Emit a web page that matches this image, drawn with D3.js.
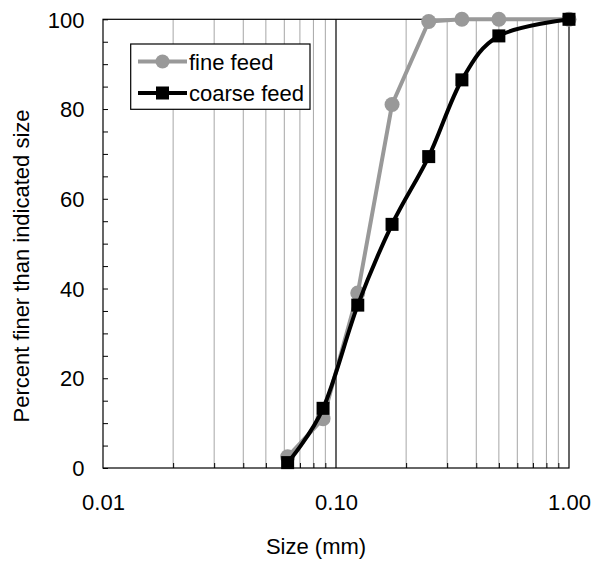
<!DOCTYPE html>
<html>
<head>
<meta charset="utf-8">
<script src="https://cdn.jsdelivr.net/npm/d3@7"></script>
<style>
  body { margin: 0; background: #fff; }
  svg { display: block; font-family: "Liberation Sans", Arial, sans-serif; }
</style>
</head>
<body>
<div id="chart"></div>
<script>
// sieve sizes (mm) and cumulative percent passing
var sizes = [0.062, 0.088, 0.124, 0.174, 0.25, 0.347, 0.5, 1.0];
var fineFeed = [2.5, 11, 39, 81, 99.5, 100, 100, 100];
var coarseFeed = [1.2, 13.3, 36.3, 54.3, 69.4, 86.5, 96.3, 100];
var seriesNames = ["fine feed", "coarse feed"];
var xTickLabels = [0.01, 0.1, 1];
var yTickLabels = [0, 20, 40, 60, 80, 100];

var W = 592, H = 563;
var pLeft = 103, pRight = 569, pTop = 19.3, pBottom = 468;
var fs = 22;

var svg = d3.select("#chart").append("svg")
  .attr("width", W).attr("height", H);

var x = d3.scaleLog().domain([0.01, 1]).range([pLeft, pRight]);
var y = d3.scaleLinear().domain([0, 100]).range([pBottom, pTop]);

// vertical grid lines on the log axis
var minor = [];
[0.01, 0.1].forEach(function(dec){
  for (var k = 2; k <= 9; k++) minor.push(+(dec * k).toFixed(3));
});

svg.selectAll(".grid")
  .data(minor)
  .enter().append("line")
  .attr("class", "grid")
  .attr("x1", d => x(d)).attr("x2", d => x(d))
  .attr("y1", pTop).attr("y2", pBottom)
  .attr("stroke", "#a6a6a6")
  .attr("stroke-width", 1);

svg.append("line")
  .attr("x1", x(0.1)).attr("x2", x(0.1))
  .attr("y1", pTop).attr("y2", pBottom)
  .attr("stroke", "#000")
  .attr("stroke-width", 1.2);

// inward minor ticks along the bottom
svg.append("g")
  .attr("transform", "translate(0," + pBottom + ")")
  .call(d3.axisBottom(x).tickValues(minor).tickSize(-5).tickFormat(""))
  .call(g => g.select(".domain").remove())
  .selectAll("line").attr("stroke", "#000");

// x labels
svg.append("g")
  .attr("transform", "translate(0," + pBottom + ")")
  .call(d3.axisBottom(x).tickValues(xTickLabels).tickSize(0).tickPadding(26).tickFormat(d3.format(".2f")))
  .call(g => g.select(".domain").remove())
  .selectAll("text")
  .attr("font-size", fs)
  .attr("font-family", "Liberation Sans, Arial, sans-serif")
  .attr("fill", "#000");

// y axis, ticks inward every 5
svg.append("g")
  .attr("transform", "translate(" + pLeft + ",0)")
  .call(d3.axisLeft(y).tickValues(d3.range(0, 101, 5)).tickSize(-5).tickPadding(18.5)
    .tickFormat(d => yTickLabels.indexOf(d) >= 0 ? d : ""))
  .call(g => g.select(".domain").remove())
  .call(g => g.selectAll("line").attr("stroke", "#000"))
  .selectAll("text")
  .attr("font-size", fs)
  .attr("font-family", "Liberation Sans, Arial, sans-serif")
  .attr("dy", "0.35em")
  .attr("fill", "#000");

// plot frame
svg.append("rect")
  .attr("x", pLeft).attr("y", pTop)
  .attr("width", pRight - pLeft).attr("height", pBottom - pTop)
  .attr("fill", "none")
  .attr("stroke", "#000")
  .attr("stroke-width", 1.2);

// axis titles
svg.append("text")
  .attr("x", 316).attr("y", 554)
  .attr("text-anchor", "middle")
  .attr("font-size", fs)
  .text("Size (mm)");

svg.append("text")
  .attr("transform", "translate(29,266) rotate(-90)")
  .attr("text-anchor", "middle")
  .attr("font-size", fs)
  .text("Percent finer than indicated size");

var gray = "#999999";

// fine feed: straight segments, round markers
var fineLine = d3.line()
  .x((d, i) => x(sizes[i]))
  .y(d => y(d));

svg.append("path")
  .datum(fineFeed)
  .attr("d", fineLine)
  .attr("fill", "none")
  .attr("stroke", gray)
  .attr("stroke-width", 4)
  .attr("stroke-linejoin", "round");

svg.selectAll(".fine")
  .data(fineFeed)
  .enter().append("circle")
  .attr("class", "fine")
  .attr("cx", (d, i) => x(sizes[i]))
  .attr("cy", d => y(d))
  .attr("r", 7.5)
  .attr("fill", gray);

// coarse feed: smoothed line, square markers
var coarseLine = d3.line()
  .x((d, i) => x(sizes[i]))
  .y(d => y(d))
  .curve(d3.curveCatmullRom.alpha(0));

svg.append("path")
  .datum(coarseFeed)
  .attr("d", coarseLine)
  .attr("fill", "none")
  .attr("stroke", "#000")
  .attr("stroke-width", 4);

var sq = 13;
svg.selectAll(".coarse")
  .data(coarseFeed)
  .enter().append("rect")
  .attr("class", "coarse")
  .attr("x", (d, i) => x(sizes[i]) - sq / 2)
  .attr("y", d => y(d) - sq / 2)
  .attr("width", sq).attr("height", sq)
  .attr("fill", "#000");

// legend
var lg = svg.append("g");
lg.append("rect")
  .attr("x", 130.7).attr("y", 44)
  .attr("width", 179.3).attr("height", 65.3)
  .attr("fill", "#fff")
  .attr("stroke", "#000")
  .attr("stroke-width", 1.2);

var rows = [
  { name: seriesNames[0], color: gray, shape: "circle", ly: 61.5 },
  { name: seriesNames[1], color: "#000", shape: "square", ly: 93 }
];

rows.forEach(function(r){
  lg.append("line")
    .attr("x1", 138).attr("x2", 187)
    .attr("y1", r.ly).attr("y2", r.ly)
    .attr("stroke", r.color)
    .attr("stroke-width", 4);
  if (r.shape == "circle") {
    lg.append("circle").attr("cx", 162.5).attr("cy", r.ly).attr("r", 7).attr("fill", r.color);
  } else {
    lg.append("rect").attr("x", 162.5 - 6.5).attr("y", r.ly - 6.5)
      .attr("width", 13).attr("height", 13).attr("fill", r.color);
  }
  lg.append("text")
    .attr("x", 189).attr("y", r.ly + 8)
    .attr("font-size", fs)
    .text(r.name);
});
</script>
</body>
</html>
